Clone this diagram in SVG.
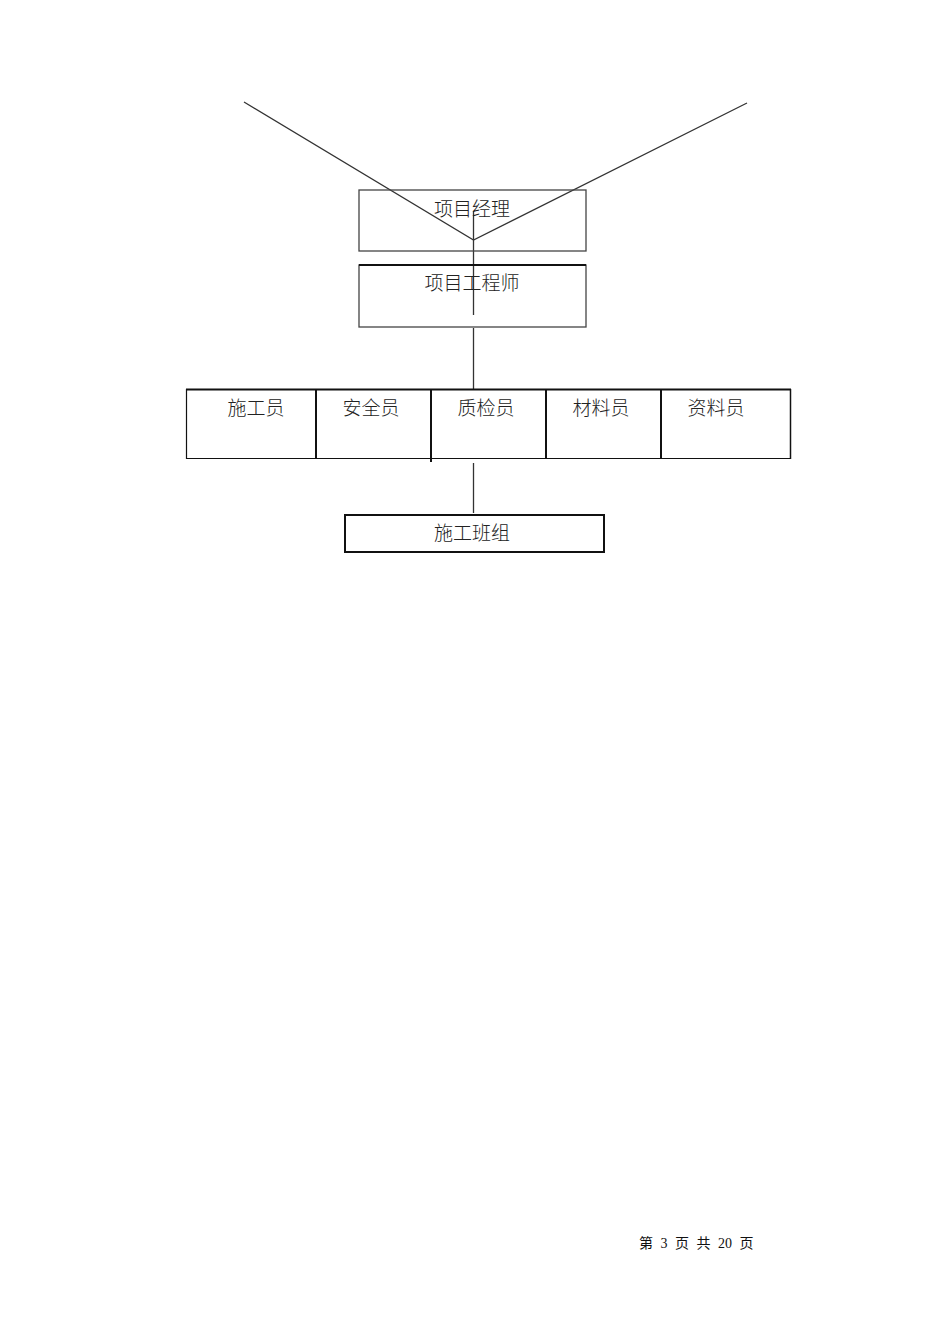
<svg xmlns="http://www.w3.org/2000/svg" width="950" height="1344" viewBox="0 0 950 1344">
<style>
.t{font-family:"Noto Sans CJK SC","Noto Sans CJK TC",sans-serif;font-size:19px;font-weight:300;fill:#222;text-anchor:middle}
.f{font-family:"Liberation Serif","Noto Sans CJK SC",serif;font-size:14px;fill:#111;word-spacing:4px}
.b{fill:none;stroke:#444;stroke-width:1.3}
.k{fill:none;stroke:#111;stroke-width:2}
.c{stroke:#333;stroke-width:1.3;fill:none}
</style>
<rect width="950" height="1344" fill="#fff"/>
<g id="connectors">
<polyline class="c" points="244,102 473.5,240 747,103"/>
<line class="c" x1="473.5" y1="211" x2="473.5" y2="315"/>
<line class="c" x1="473.5" y1="328" x2="473.5" y2="389"/>
<line class="c" x1="473.5" y1="463" x2="473.5" y2="513"/>
</g>
<g id="pm">
<rect class="b" x="359" y="190" width="227" height="61"/>
<text class="t" x="472" y="216">项目经理</text>
</g>
<g id="engineer">
<rect class="b" x="359" y="265" width="227" height="62"/>
<line class="k" x1="359" y1="265" x2="586" y2="265"/>
<text class="t" x="472" y="290">项目工程师</text>
</g>
<g id="staff-row">
<line class="k" x1="186" y1="389.5" x2="791" y2="389.5"/>
<line x1="186" y1="458.5" x2="791" y2="458.5" stroke="#111" stroke-width="1.2"/>
<line x1="186.5" y1="389" x2="186.5" y2="459" stroke="#111" stroke-width="1.2"/>
<line x1="790.5" y1="389" x2="790.5" y2="459" stroke="#111" stroke-width="1.5"/>
</g>
<g id="shigongyuan">
<line class="k" x1="316" y1="389" x2="316" y2="459"/>
<text class="t" x="256" y="415">施工员</text>
</g>
<g id="anquanyuan">
<line class="k" x1="431" y1="389" x2="431" y2="462"/>
<text class="t" x="371" y="415">安全员</text>
</g>
<g id="zhijianyuan">
<line class="k" x1="546" y1="389" x2="546" y2="459"/>
<text class="t" x="486" y="415">质检员</text>
</g>
<g id="cailiaoyuan">
<line class="k" x1="661" y1="389" x2="661" y2="459"/>
<text class="t" x="601" y="415">材料员</text>
</g>
<g id="ziliaoyuan">
<text class="t" x="716" y="415">资料员</text>
</g>
<g id="team">
<rect class="k" x="345" y="515" width="259" height="37"/>
<text class="t" x="472" y="540">施工班组</text>
</g>
<text class="f" x="639" y="1248">第 3 页 共 20 页</text>
</svg>
